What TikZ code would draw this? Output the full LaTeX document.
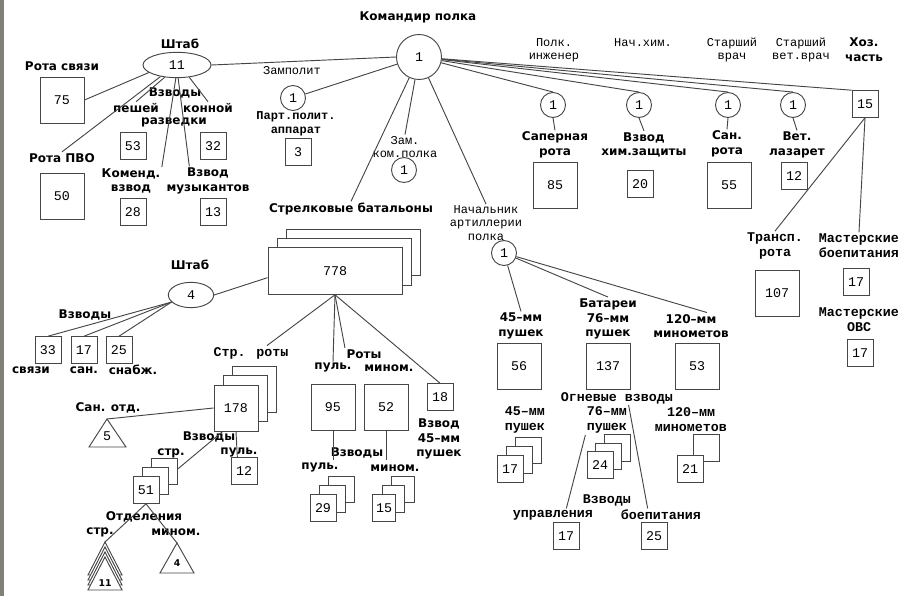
\documentclass[tikz,border=0pt]{standalone}
\usepackage{fontspec}
\setmainfont{DejaVu Sans}
\newfontfamily\monof{Liberation Mono}
\usetikzlibrary{shapes.geometric,shadows,calc}
\definecolor{linec}{RGB}{70,70,70}
\definecolor{barc}{RGB}{128,128,120}

\begin{document}
\begin{tikzpicture}[
  x=0.75pt,y=-0.75pt,
  lbl/.style={font=\bfseries\fontsize{9}{11}\selectfont, align=center, inner sep=1pt},
  thin/.style={font=\monof\fontsize{9}{10}\selectfont, align=center, inner sep=1pt},
  mono/.style={font=\monof\bfseries\fontsize{10}{11.25}\selectfont, align=center, inner sep=1pt},
  part/.style={font=\monof\bfseries\fontsize{9}{10.5}\selectfont, align=center, inner sep=1pt},
  num/.style={font=\monof\fontsize{10}{12}\selectfont, inner sep=0pt},
  tnum/.style={font=\bfseries\fontsize{7}{8}\selectfont, inner sep=0pt},
  box/.style={draw=linec, fill=white, line width=0.7pt, minimum width=33pt, minimum height=34.5pt, inner sep=0pt, font=\monof\fontsize{10}{12}\selectfont},
  sbox/.style={box, minimum width=19.5pt, minimum height=20pt},
  wbox/.style={box, minimum width=100.5pt, minimum height=35pt},
  stack/.style={double copy shadow={shadow xshift=7pt, shadow yshift=7pt}},
  rnd/.style={box, circle, minimum size=18.75pt},
  big/.style={rnd, minimum size=33.75pt},
  oval/.style={box, ellipse},
  ln/.style={draw=linec, line width=0.7pt}
]
\useasboundingbox (0,0) rectangle (901,596);
\fill[barc] (0,0) rectangle (4,596);

\node[lbl] (cmd) at (418,17) {Командир полка};
\node[big] (c1) at (419,57) {1};

\node[lbl] (shtab1) at (180,44) {Штаб};
\node[oval, minimum width=51pt, minimum height=19pt] (e11) at (177,65) {11};
\node[lbl] (svyaz) at (62,66) {Рота связи};
\node[box] (b75) at (62,100) {75};
\node[lbl] (pvo) at (62,158) {Рота ПВО};
\node[box] (b50) at (62,196) {50};
\node[lbl] (vzv1) at (175,93) {Взводы};
\node[lbl] (pesh) at (136,108) {пешей};
\node[lbl] (kon) at (208,108) {конной};
\node[lbl] (razv) at (174,122) {разведки};
\node[sbox] (b53) at (133,146) {53};
\node[sbox] (b32) at (213,146) {32};
\node[lbl] (kom) at (131,181) {Коменд.\\взвод};
\node[lbl] (muz) at (208,181) {Взвод\\музыкантов};
\node[sbox] (b28) at (133,212) {28};
\node[sbox] (b13) at (213,212) {13};

\node[thin] (zamp) at (292,71) {Замполит};
\node[rnd] (cz) at (293,98) {1};
\node[part] (partl) at (296,124) {Парт.полит.\\аппарат};
\node[sbox] (b3) at (298,152) {3};
\node[thin] (zam) at (405,147) {Зам.\\ком.полка};
\node[rnd] (czam) at (404,170) {1};
\node[lbl] (strel) at (351,209) {Стрелковые батальоны};
\node[thin] (nach) at (486,223) {Начальник\\артиллерии\\полка};
\node[rnd] (ca) at (504,253) {1};

\node[thin] (inzh) at (554,50) {Полк.\\инженер};
\node[thin] (nhim) at (643,43) {Нач.хим.};
\node[thin] (vrach) at (732,50) {Старший\\врач};
\node[thin] (vvrach) at (801,50) {Старший\\вет.врач};
\node[lbl] (hoz) at (864,50) {Хоз.\\часть};
\node[rnd] (cs) at (553,105) {1};
\node[rnd] (ch) at (639,105) {1};
\node[rnd] (cv) at (728,105) {1};
\node[rnd] (cw) at (793,105) {1};
\node[sbox] (b15) at (865,104) {15};
\node[lbl] (sap) at (555,145) {Саперная\\рота};
\node[box] (b85) at (555,185) {85};
\node[lbl] (him) at (644,145) {Взвод\\хим.защиты};
\node[sbox] (b20) at (640,184) {20};
\node[lbl] (san) at (727,144) {Сан.\\рота};
\node[box] (b55) at (729,185) {55};
\node[lbl] (vet) at (797,145) {Вет.\\лазарет};
\node[sbox] (b12v) at (794,176) {12};
\node[mono] (trans) at (775,246) {Трансп.\\рота};
\node[box] (b107) at (777,293) {107};
\node[mono] (mast) at (859,246) {Мастерские\\боепитания};
\node[sbox] (b17m) at (856,282) {17};
\node[mono] (ovs) at (859,320) {Мастерские\\ОВС};
\node[sbox] (b17o) at (860,353) {17};

\node[wbox, stack] (b778) at (335,271) {778};
\node[lbl] (shtab2) at (190,265) {Штаб};
\node[oval, minimum width=34pt, minimum height=19pt] (e4) at (191,295) {4};
\node[lbl] (vzv2) at (85,315) {Взводы};
\node[sbox] (b33) at (48,350) {33};
\node[sbox] (b17) at (84,350) {17};
\node[sbox] (b25) at (119,350) {25};
\node[lbl] (svz) at (31,370) {связи};
\node[lbl] (sann) at (84,370) {сан.};
\node[lbl] (snab) at (133,370) {снабж.};

\node[mono] (sr) at (251,353) {Стр. роты};
\node[box, stack] (b178) at (236,408) {178};
\node[lbl] (sotd) at (108,408) {Сан. отд.};
\coordinate (t5) at (107,419);
\draw[ln, fill=white] (t5) -- ++(-18,28) -- ++(37,0) -- cycle;
\node[num] (n5) at (107,436) {5};
\node[lbl] (vzv4) at (209,437) {Взводы};
\node[lbl] (str1) at (171,453) {стр.};
\node[lbl] (pul3) at (239,453) {пуль.};
\node[sbox] (b12) at (244,471) {12};
\node[sbox, stack] (b51) at (146,490) {51};
\node[lbl] (otd) at (144,517) {Отделения};
\node[lbl] (str2) at (100,532) {стр.};
\node[lbl] (min3) at (176,532) {мином.};
\coordinate (t11) at (105,542);
\foreach \d in {0,5,10,15}
  \draw[ln, fill=white] ($(t11)+(0,\d)$) -- ++(-17,33) -- ++(34,0) -- cycle;
\node[tnum] (n11) at (105,583) {11};
\coordinate (t4) at (177,543);
\draw[ln, fill=white] (t4) -- ++(-17,30) -- ++(34,0) -- cycle;
\node[tnum] (n4) at (177,563) {4};

\node[lbl] (roty) at (364,354) {Роты};
\node[lbl] (pul1) at (333,368) {пуль.};
\node[lbl] (min1) at (389,368) {мином.};
\node[box] (b95) at (333,407) {95};
\node[box] (b52) at (386,407) {52};
\node[sbox] (b18) at (440,397) {18};
\node[lbl] (v45) at (439,439) {Взвод\\45–мм\\пушек};
\node[lbl] (vzv3) at (357,453) {Взводы};
\node[lbl] (pul2) at (320,468) {пуль.};
\node[lbl] (min2) at (395,468) {мином.};
\node[sbox, stack] (b29) at (323,508) {29};
\node[sbox, stack, minimum width=17pt] (b15s) at (384,508) {15};

\node[lbl] (a45) at (521,326) {45–мм\\пушек};
\node[lbl] (bat) at (608,319) {Батареи\\76–мм\\пушек};
\node[lbl] (a120) at (691,326) {120–мм\\минометов};
\node[box] (b56) at (519,366) {56};
\node[box] (b137) at (608,366) {137};
\node[box] (b53a) at (697,366) {53};
\node[mono] (ogn) at (617,398) {Огневые взводы};
\node[mono] (p45) at (525,420) {45–мм\\пушек};
\node[mono] (p76) at (607,420) {76–мм\\пушек};
\node[mono] (p120) at (691,420) {120–мм\\минометов};
\node[sbox, stack] (b17a) at (510,469) {17};
\node[sbox, double copy shadow={shadow xshift=6.5pt, shadow yshift=6.5pt}] (b24) at (600,465) {24};
\node[sbox, copy shadow={shadow xshift=12pt, shadow yshift=16pt}] (b21) at (690,469) {21};
\node[mono] (vzv5) at (607,500) {Взводы};
\node[mono] (upr) at (553,515) {управления};
\node[mono] (boep) at (661,515) {боепитания};
\node[sbox] (b17u) at (566,536) {17};
\node[sbox] (b25b) at (654,536) {25};

\draw[ln] (e11.east) -- (c1.west);
\draw[ln] (e11.195) -- (b75.east);
\draw[ln] (e11.215) -- (pvo.north);
\draw[ln] (e11.225) -- (pesh.north);
\draw[ln] (e11.-45) -- (kon.north);
\draw[ln] (e11.-95) -- (kom.north east);
\draw[ln] (e11.-85) -- ([xshift=-14pt]muz.north);
\draw[ln] (c1) -- (cz);
\draw[ln] (c1.-100) -- (zam.north);
\draw[ln] (c1) -- (strel.north);
\draw[ln] (c1) -- (nach.north);
\foreach \x in {cs,ch,cv,cw} \draw[ln] (c1) -- (\x.north);
\draw[ln] (c1) -- (b15.north west);
\foreach \x/\y in {cs/sap,ch/him,cv/san,cw/vet} \draw[ln] (\x.south) -- (\y.north);
\draw[ln] (b15.south) -- (trans.north);
\draw[ln] (b15.south) -- (mast.north);

\draw[ln] (ca) -- (a45.north);
\draw[ln] (ca) -- (bat.north);
\draw[ln] (ca) -- ([xshift=12pt]a120.north);
\draw[ln] (p76.south west) -- ([xshift=10pt]upr.north);
\draw[ln] (p76.north east) -- ([xshift=-10pt]boep.north);

\draw[ln] (e4.east) -- ([yshift=-5pt]b778.west);
\foreach \x in {b33,b17,b25} \draw[ln] (e4.200) -- (\x.north);
\draw[ln] (b778.south) -- ([xshift=12pt]sr.north);
\draw[ln] (b778.south) -- (pul1.north);
\draw[ln] (b778.south) -- (roty.north west);
\draw[ln] (b778.south) -- (b18.north);
\draw[ln] (b95.south) -- (b95.south |- vzv3.south);
\draw[ln] (b52.south) -- (b52.south |- vzv3.south);

\draw[ln] (b178.west) -- (t5);
\draw[ln] ([xshift=-10pt]b178.south) -- ([shift={(14pt,16pt)}]b51.east);
\draw[ln] (b178.south) -- ([xshift=-5pt]b12.north);
\draw[ln] (b51.south) -- (t11);
\draw[ln] (b51.south) -- (t4);
\end{tikzpicture}
\end{document}
